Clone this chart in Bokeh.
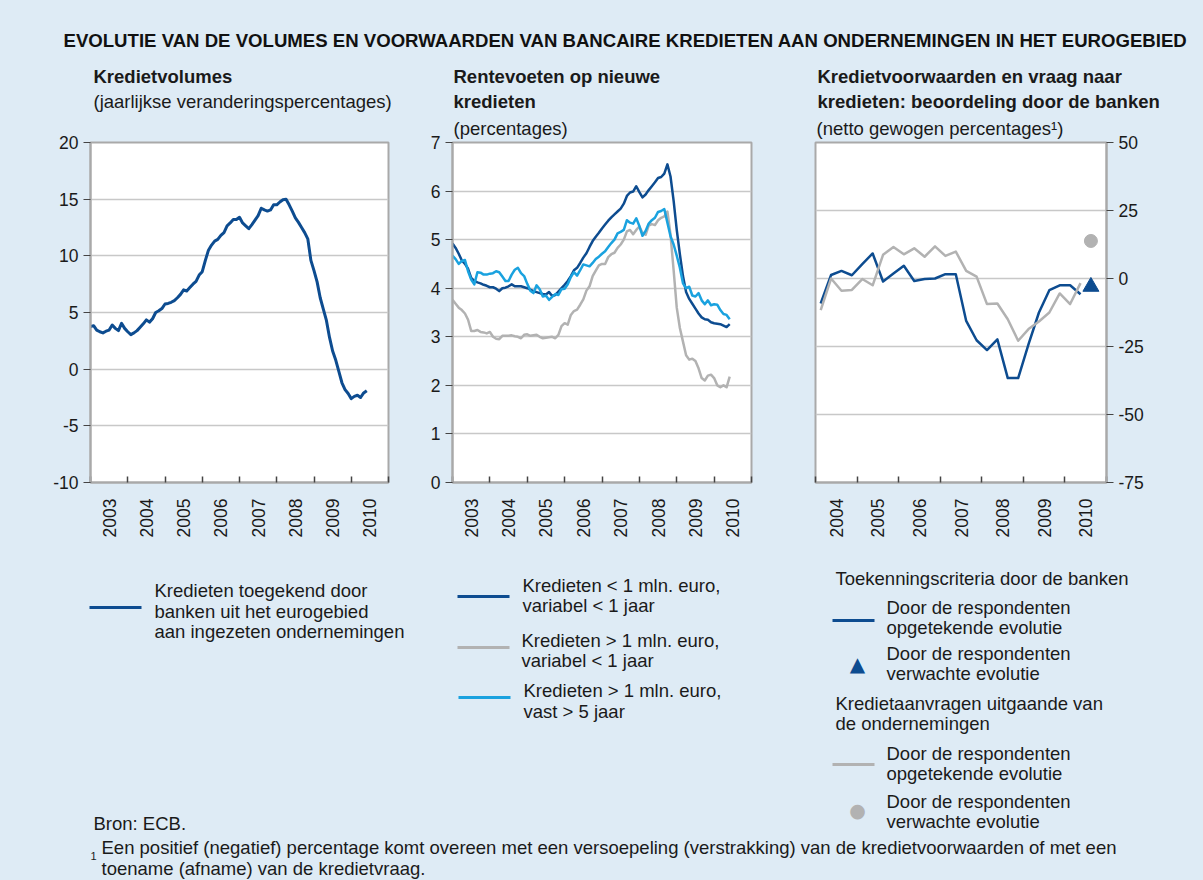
import math
from bokeh.plotting import figure
from bokeh.models import Range1d, FixedTicker, Label, BoxAnnotation
from bokeh.layouts import column, row
from bokeh.embed import file_html
from bokeh.resources import INLINE

# ---------------- data ----------------
vol_start_year = 2003
credit_volumes = [
    3.75, 3.84, 3.45, 3.3, 3.2, 3.35, 3.45, 3.9, 3.6, 3.4,
    4.05, 3.6, 3.3, 3.05, 3.2, 3.4, 3.7, 4.0, 4.35, 4.15,
    4.45, 5.0, 5.15, 5.35, 5.75, 5.8, 5.9, 6.05, 6.3, 6.6,
    7.0, 6.9, 7.2, 7.5, 7.75, 8.3, 8.6, 9.6, 10.5, 10.95,
    11.3, 11.45, 11.8, 12.05, 12.65, 12.9, 13.2, 13.2, 13.4, 12.9,
    12.65, 12.4, 12.75, 13.15, 13.55, 14.2, 14.05, 13.95, 14.05, 14.5,
    14.5, 14.75, 14.95, 15.0, 14.5, 13.95, 13.35, 12.95, 12.5, 12.05,
    11.5, 9.6, 8.7, 7.7, 6.3, 5.3, 4.3, 2.8, 1.6, 0.8,
    -0.2, -1.2, -1.8, -2.15, -2.6, -2.4, -2.3, -2.5, -2.1, -1.9,
]

rate_start_year = 2003
rate_small_var = [
    4.92, 4.83, 4.71, 4.57, 4.5, 4.4, 4.21, 4.15, 4.12, 4.10,
    4.07, 4.05, 4.02, 4.02, 3.99, 3.94, 4.0, 4.01, 4.04, 4.08,
    4.04, 4.04, 4.04, 4.02, 4.0, 3.97, 3.94, 3.92, 3.9, 3.88,
    3.87, 3.92, 3.84, 3.86, 3.93, 4.0, 4.07, 4.15, 4.25, 4.37,
    4.42, 4.52, 4.63, 4.72, 4.85, 4.97, 5.06, 5.14, 5.23, 5.31,
    5.39, 5.46, 5.52, 5.58, 5.64, 5.74, 5.9, 5.97, 5.99, 6.1,
    5.98, 5.87, 5.93, 6.02, 6.1, 6.18, 6.27, 6.29, 6.36, 6.55,
    6.3, 5.8, 5.2, 4.7, 4.25, 3.92, 3.78, 3.68, 3.58, 3.48,
    3.4, 3.36, 3.35, 3.3, 3.28, 3.27, 3.26, 3.23, 3.2, 3.26,
]
rate_large_var = [
    3.76, 3.68, 3.6, 3.55, 3.48, 3.35, 3.12, 3.12, 3.14, 3.1,
    3.09, 3.07, 3.1, 3.0, 2.96, 2.95, 3.02, 3.02, 3.02, 3.03,
    3.01, 3.0, 2.97, 3.04, 3.05, 3.02, 3.03, 3.04, 3.0, 2.97,
    2.98, 2.99, 3.0, 2.97, 3.04, 3.22, 3.28, 3.25, 3.45, 3.53,
    3.56, 3.66, 3.77, 3.95, 4.04, 4.25, 4.36, 4.47, 4.5, 4.5,
    4.64, 4.7, 4.73, 4.83, 4.9, 5.0, 5.17, 5.2, 5.11, 5.2,
    5.27, 5.14, 5.1, 5.29, 5.32, 5.3, 5.4, 5.45, 5.48, 5.58,
    5.1, 4.37, 3.6, 3.18, 2.9, 2.62, 2.53, 2.55, 2.5, 2.35,
    2.15, 2.1, 2.2, 2.22, 2.15, 2.0, 1.96, 2.0, 1.96, 2.18,
]
rate_large_fixed = [
    4.67, 4.6, 4.5, 4.56, 4.58, 4.35, 4.18, 4.08, 4.33, 4.32,
    4.28, 4.28, 4.3, 4.31, 4.35, 4.33, 4.24, 4.15, 4.15, 4.28,
    4.38, 4.42, 4.31, 4.25, 4.09, 3.95, 3.9, 4.06, 3.98, 3.83,
    3.85, 3.76, 3.82, 3.88, 3.86, 3.98, 3.99, 4.08, 4.23, 4.33,
    4.26, 4.37, 4.49, 4.47, 4.45, 4.52, 4.6, 4.65, 4.71, 4.76,
    4.85, 4.93, 5.0, 5.13, 5.16, 5.2, 5.4, 5.35, 5.33, 5.44,
    5.28, 5.08, 5.18, 5.33, 5.4, 5.45, 5.57, 5.59, 5.63, 5.35,
    5.07, 4.9, 4.67, 4.42, 4.1, 4.0, 4.03, 3.85, 3.83, 3.9,
    3.75, 3.67, 3.75, 3.65, 3.67, 3.66, 3.55, 3.47, 3.45, 3.36,
]

bls_start = 2004.125
credit_standards = [-9.2, 1.3, 2.8, 1.2, 5.3, 9.2, -1.1, 1.8, 4.7, -0.9, -0.2, 0.0, 1.6,
                    1.6, -15.6, -22.7, -26.3, -22.4, -36.6, -36.6, -24.1, -12.5, -4.3,
                    -2.5, -2.5, -5.8]
loan_demand = [-11.6, 0.0, -4.5, -4.2, -0.2, -2.5, 8.7, 11.6, 8.9, 11.1, 8.0, 11.8, 8.3,
               9.9, 2.8, 0.7, -9.4, -9.2, -15.0, -22.9, -18.6, -15.8, -12.5, -5.5,
               -9.4, -1.7]
expected_standards = [-3.0]
expected_demand = [13.8]

years_panel12 = [2003, 2004, 2005, 2006, 2007, 2008, 2009, 2010]
years_panel3 = [2004, 2005, 2006, 2007, 2008, 2009, 2010]
vol_ticks = [-10, -5, 0, 5, 10, 15, 20]
rate_ticks = [0, 1, 2, 3, 4, 5, 6, 7]
bls_ticks = [-75, -50, -25, 0, 25, 50]

# ---------------- styling / layout ----------------
BG = "#deebf5"
DARK = "#0d4c90"
LIGHT = "#1aa2df"
GREY = "#b2b2b2"
FRAME = "#a9a9a9"
GRID = "#c8c8c8"
TXT = "#1a1a1a"
FONT = "Liberation Sans"
FS = 18.5

PAGE_W = 1203
HEAD_H = 112         # page y 0 .. 112
ROW_TOP = 112
ROW_H = 448          # page y 112 .. 560
LEG_TOP = 560
LEG_H = 320          # page y 560 .. 880
FRAME_TOP = 142
FRAME_BOTTOM = 482


def txt(p, x0, ybot, X, Y, text, size=FS, bold=False, color=TXT, font=FONT, align="left"):
    p.add_layout(Label(x=X - x0, y=ybot - Y, x_units="screen", y_units="screen",
                       text=text, text_font=font, text_font_size=f"{size}px",
                       text_font_style="bold" if bold else "normal",
                       text_color=color, text_baseline="middle", text_align=align))


def swatch(p, x0, ybot, X1, X2, Y, color, thick=3):
    p.add_layout(BoxAnnotation(left=X1 - x0, right=X2 - x0,
                               bottom=ybot - Y - thick / 2, top=ybot - Y + thick / 2,
                               left_units="screen", right_units="screen",
                               top_units="screen", bottom_units="screen",
                               fill_color=color, fill_alpha=1.0, line_alpha=0))


def chart(x0, width, frame_left, frame_right, years, yr, yticks, y_loc="left", subtitle=""):
    p = figure(width=width, height=ROW_H,
               x_range=Range1d(years[0], years[-1] + 1), y_range=Range1d(*yr),
               output_backend="svg", toolbar_location=None, y_axis_location=y_loc,
               min_border_left=frame_left - x0, min_border_right=x0 + width - frame_right,
               min_border_top=FRAME_TOP - ROW_TOP,
               min_border_bottom=ROW_TOP + ROW_H - FRAME_BOTTOM)
    p.border_fill_color = BG
    p.background_fill_color = "white"
    p.outline_line_color = FRAME
    p.outline_line_width = 2
    p.xgrid.visible = False
    p.ygrid.grid_line_color = GRID
    p.ygrid.grid_line_width = 1.5
    p.ygrid.ticker = FixedTicker(ticks=yticks)

    if subtitle:
        p.title.text = subtitle
        p.title.align = "left"
        p.title.offset = 1
        p.title.standoff = 7
        p.title.text_font = FONT
        p.title.text_font_size = f"{FS}px"
        p.title.text_font_style = "normal"
        p.title.text_color = TXT

    xa = p.xaxis[0]
    xa.ticker = FixedTicker(ticks=[y + 0.5 for y in years],
                            minor_ticks=list(range(years[0], years[-1] + 2)))
    xa.major_label_overrides = {y + 0.5: str(y) for y in years}
    xa.major_label_orientation = math.pi / 2
    xa.major_tick_in = 0
    xa.major_tick_out = 0
    xa.minor_tick_in = 6
    xa.minor_tick_out = 0
    xa.minor_tick_line_color = "#444444"
    xa.minor_tick_line_width = 1.5
    xa.axis_line_color = FRAME
    xa.axis_line_width = 2
    xa.major_label_standoff = 16
    xa.major_label_text_font = FONT
    xa.major_label_text_font_size = "17.5px"
    xa.major_label_text_color = TXT

    ya = p.yaxis[0]
    ya.ticker = FixedTicker(ticks=yticks)
    ya.major_label_overrides = {t: str(t) for t in yticks}
    ya.major_tick_in = 0
    ya.major_tick_out = 7
    ya.minor_tick_in = 0
    ya.minor_tick_out = 0
    ya.major_tick_line_color = "#444444"
    ya.major_tick_line_width = 1.2
    ya.axis_line_color = FRAME
    ya.axis_line_width = 2
    ya.major_label_standoff = 5
    ya.major_label_text_font = FONT
    ya.major_label_text_font_size = "17.5px"
    ya.major_label_text_color = TXT
    return p


def strip(height):
    p = figure(width=PAGE_W, height=height, x_range=Range1d(0, 1), y_range=Range1d(0, 1),
               output_backend="svg", toolbar_location=None,
               x_axis_location=None, y_axis_location=None, min_border=0)
    p.outline_line_color = None
    p.background_fill_color = BG
    p.border_fill_color = BG
    p.grid.visible = False
    return p


# ---------------- charts ----------------
p1 = chart(0, 415, 90, 388, years_panel12, (-10, 20), vol_ticks)
x_vol = [vol_start_year + i / 12 for i in range(len(credit_volumes))]
p1.line(x_vol, credit_volumes, line_color=DARK, line_width=3, line_join="round")

p2 = chart(415, 380, 452, 751, years_panel12, (0, 7), rate_ticks, subtitle="(percentages)")
x_rate = [rate_start_year + i / 12 for i in range(len(rate_small_var))]
p2.line(x_rate, rate_large_var, line_color=GREY, line_width=2.5, line_join="round")
p2.line(x_rate, rate_small_var, line_color=DARK, line_width=2.5, line_join="round")
p2.line(x_rate, rate_large_fixed, line_color=LIGHT, line_width=2.5, line_join="round")

p3 = chart(795, 408, 815, 1106, years_panel3, (-75, 50), bls_ticks, y_loc="right",
           subtitle="(netto gewogen percentages\u00b9)")
x_q = [bls_start + 0.25 * i for i in range(len(credit_standards))]
x_exp = [bls_start + 0.25 * len(credit_standards)]
p3.line(x_q, credit_standards, line_color=DARK, line_width=2.5, line_join="round")
p3.line(x_q, loan_demand, line_color=GREY, line_width=2.5, line_join="round")
p3.scatter(x_exp, expected_standards, marker="triangle", size=16, color=DARK)
p3.scatter(x_exp, expected_demand, marker="circle", size=13, color=GREY)

# ---------------- header strip ----------------
head = strip(HEAD_H)
hb = HEAD_H
txt(head, 0, hb, 63, 40,
    "EVOLUTIE VAN DE VOLUMES EN VOORWAARDEN VAN BANCAIRE KREDIETEN AAN ONDERNEMINGEN IN HET EUROGEBIED",
    size=18.6, bold=True, color="#111111")
txt(head, 0, hb, 93, 76, "Kredietvolumes", bold=True)
txt(head, 0, hb, 93, 100.5, "(jaarlijkse veranderingspercentages)")
txt(head, 0, hb, 453, 76, "Rentevoeten op nieuwe", bold=True)
txt(head, 0, hb, 453, 100.5, "kredieten", bold=True)
txt(head, 0, hb, 817, 76, "Kredietvoorwaarden en vraag naar", bold=True)
txt(head, 0, hb, 817, 100.5, "kredieten: beoordeling door de banken", bold=True)

# ---------------- legend / footnote strip ----------------
leg = strip(LEG_H)
lb = LEG_TOP + LEG_H
# panel 1
swatch(leg, 0, lb, 89, 141, 607, DARK)
txt(leg, 0, lb, 154, 590, "Kredieten toegekend door")
txt(leg, 0, lb, 154, 610.5, "banken uit het eurogebied")
txt(leg, 0, lb, 154, 631, "aan ingezeten ondernemingen")
txt(leg, 0, lb, 93, 823, "Bron: ECB.")
# panel 2
swatch(leg, 0, lb, 457, 509, 596, DARK)
txt(leg, 0, lb, 522, 585, "Kredieten < 1 mln. euro,")
txt(leg, 0, lb, 522, 605, "variabel < 1 jaar")
swatch(leg, 0, lb, 457, 509, 647, GREY)
txt(leg, 0, lb, 521, 640, "Kredieten > 1 mln. euro,")
txt(leg, 0, lb, 521, 660, "variabel < 1 jaar")
swatch(leg, 0, lb, 458, 510, 697, LIGHT)
txt(leg, 0, lb, 523, 690, "Kredieten > 1 mln. euro,")
txt(leg, 0, lb, 523, 711, "vast > 5 jaar")
# panel 3
txt(leg, 0, lb, 835, 578, "Toekenningscriteria door de banken")
swatch(leg, 0, lb, 832, 874, 620, DARK)
txt(leg, 0, lb, 886, 607, "Door de respondenten")
txt(leg, 0, lb, 886, 627, "opgetekende evolutie")
txt(leg, 0, lb, 857, 663, "\u25b2", size=20, color=DARK, font="DejaVu Sans", align="center")
txt(leg, 0, lb, 886, 653, "Door de respondenten")
txt(leg, 0, lb, 886, 673, "verwachte evolutie")
txt(leg, 0, lb, 835, 703, "Kredietaanvragen uitgaande van")
txt(leg, 0, lb, 835, 723, "de ondernemingen")
swatch(leg, 0, lb, 832, 874, 764, GREY)
txt(leg, 0, lb, 886, 753, "Door de respondenten")
txt(leg, 0, lb, 886, 773, "opgetekende evolutie")
txt(leg, 0, lb, 857, 809, "\u25cf", size=19, color=GREY, font="DejaVu Sans", align="center")
txt(leg, 0, lb, 886, 801, "Door de respondenten")
txt(leg, 0, lb, 886, 821, "verwachte evolutie")
# footnote
txt(leg, 0, lb, 90, 855, "1", size=11)
txt(leg, 0, lb, 101, 847,
    "Een positief (negatief) percentage komt overeen met een versoepeling (verstrakking) van de kredietvoorwaarden of met een")
txt(leg, 0, lb, 101, 867.5, "toename (afname) van de kredietvraag.")

p = column(head, row(p1, p2, p3, styles={"background-color": BG}), leg,
           styles={"background-color": BG})

open("out.html", "w").write(file_html(p, INLINE))
